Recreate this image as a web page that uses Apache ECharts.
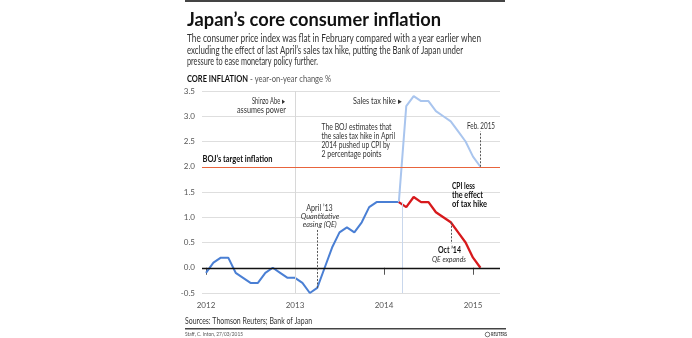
<!DOCTYPE html>
<html><head><meta charset="utf-8">
<script src="https://cdn.jsdelivr.net/npm/echarts@6/dist/echarts.min.js"></script>
<style>html,body{margin:0;padding:0;background:#fff}#c{width:692px;height:338px}</style>
</head><body><div id="c"></div>
<script>
// ---- data ----
const months = ['2012-01','2012-02','2012-03','2012-04','2012-05','2012-06','2012-07','2012-08','2012-09','2012-10','2012-11','2012-12',
  '2013-01','2013-02','2013-03','2013-04','2013-05','2013-06','2013-07','2013-08','2013-09','2013-10','2013-11','2013-12',
  '2014-01','2014-02','2014-03','2014-04','2014-05','2014-06','2014-07','2014-08','2014-09','2014-10','2014-11','2014-12',
  '2015-01','2015-02'];
const coreCPI = [-0.1,0.1,0.2,0.2,-0.1,-0.2,-0.3,-0.3,-0.1,0.0,-0.1,-0.2,
  -0.2,-0.3,-0.5,-0.4,0.0,0.4,0.7,0.8,0.7,0.9,1.2,1.3,
  1.3,1.3,1.3,3.2,3.4,3.3,3.3,3.1,3.0,2.9,2.7,2.5,
  2.2,2.0];
const exTaxMonths = ['2014-03','2014-04','2014-05','2014-06','2014-07','2014-08','2014-09','2014-10','2014-11','2014-12','2015-01','2015-02'];
const coreExTax = [1.3,1.2,1.4,1.3,1.3,1.1,1.0,0.9,0.7,0.5,0.2,0.0];
const yearTickMonths = ['2012-01','2013-01','2014-01','2015-01'];
const yearLabels = ['2012','2013','2014','2015'];
const targetInflation = 2.0;

// ---- helpers ----
const idx = m => months.indexOf(m);
const splitAt = idx('2014-03');
const darkPart = coreCPI.slice(0, splitAt + 1).map((v, i) => [i, v]);
const lightPart = coreCPI.slice(splitAt).map((v, i) => [i + splitAt, v]);
const redPart = coreExTax.map((v, i) => [idx(exTaxMonths[i]), v]);
const tickVals = yearTickMonths.map(idx);

const FAM = 'Lato';
const cv = document.createElement('canvas').getContext('2d');
function T(text, x, y, o) {
  o = o || {};
  const size = o.size || 8, weight = o.weight || 'normal', fstyle = o.style || 'normal';
  cv.font = `${fstyle} ${weight} ${size}px ${FAM}`;
  const w = cv.measureText(text).width;
  const sx = o.w ? o.w / w : (o.sx || 0.9);
  return { type: 'text', x: x, y: y, scaleX: sx, silent: true, z: 100,
    style: { text: text, fontSize: size, fontWeight: weight, fontStyle: fstyle, fontFamily: FAM,
      fill: o.fill || '#333', align: o.align || 'left', verticalAlign: 'middle' } };
}

const chart = echarts.init(document.getElementById('c'), null, { renderer: 'canvas' });
const dotted = { color: '#555', type: [2, 1.5], width: 1 };
chart.setOption({
  animation: false,
  backgroundColor: '#fff',
  grid: { left: 202, right: 192, top: 91, bottom: 45, containLabel: false },
  xAxis: {
    type: 'value', min: -0.54, max: 39.64,
    axisLine: { show: false },
    splitLine: { show: false },
    axisTick: { show: true, customValues: tickVals, length: 7, lineStyle: { color: '#555', width: 1 } },
    axisLabel: { customValues: tickVals, margin: 8, fontSize: 8, color: '#555', fontFamily: FAM,
      formatter: v => yearLabels[tickVals.indexOf(v)] || '' }
  },
  yAxis: {
    type: 'value', min: -0.5, max: 3.5, interval: 0.5,
    axisLine: { show: false }, axisTick: { show: false },
    splitLine: { lineStyle: { color: '#dedede', width: 1 } },
    axisLabel: { margin: 7, fontSize: 8, color: '#555', fontFamily: FAM, formatter: v => v.toFixed(1) }
  },
  series: [
    { type: 'line', data: [], z: 1, silent: true,
      markLine: { silent: true, symbol: 'none', label: { show: false }, animation: false,
        data: [
          { xAxis: idx('2013-01'), lineStyle: { color: '#d8d8d8', width: 1, type: 'solid' } },
          [{ coord: [splitAt + 0.5, -0.5], lineStyle: { color: '#c9d7ec', width: 1, type: 'solid' } }, { coord: [splitAt + 0.5, coreCPI[splitAt]] }],
          { yAxis: targetInflation, lineStyle: { color: '#e8643c', width: 1.2, type: 'solid' } },
          { yAxis: 0, lineStyle: { color: '#111', width: 1.4, type: 'solid' } },
          [{ coord: [idx('2013-04'), coreCPI[idx('2013-04')]], lineStyle: dotted }, { coord: [idx('2013-04'), 0.77] }],
          [{ coord: [idx('2014-10'), coreExTax[exTaxMonths.indexOf('2014-10')]], lineStyle: dotted }, { coord: [idx('2014-10'), 0.48] }],
          [{ coord: [idx('2015-02'), coreCPI[idx('2015-02')]], lineStyle: dotted }, { coord: [idx('2015-02'), 2.7] }]
        ] } },
    { type: 'line', data: darkPart, symbol: 'none', z: 3, lineStyle: { color: '#4a7fd4', width: 2 } },
    { type: 'line', data: lightPart, symbol: 'none', z: 3, lineStyle: { color: '#a9c5ee', width: 2 } },
    { type: 'line', data: redPart, symbol: 'none', z: 4, lineStyle: { color: '#d7191c', width: 2.3 } }
  ],
  graphic: [
    { type: 'rect', shape: { x: 185, y: 0, width: 320, height: 2 }, style: { fill: '#444' }, silent: true },
    T('Japan\u2019s core consumer inflation', 187, 20, { size: 19, weight: 'bold', w: 254, fill: '#111' }),
    T('The consumer price index was flat in February compared with a year earlier when', 187, 39, { size: 10.5, w: 294, fill: '#333' }),
    T('excluding the effect of last April\u2019s sales tax hike, putting the Bank of Japan under', 187, 50.5, { size: 10.5, w: 276, fill: '#333' }),
    T('pressure to ease monetary policy further.', 187, 62, { size: 10.5, w: 131, fill: '#333' }),
    T('CORE INFLATION', 187, 79, { size: 8.5, weight: 'bold', w: 61, fill: '#111' }),
    T('- year-on-year change %', 250, 79, { size: 8.5, w: 81, fill: '#555' }),
    T('Shinzo Abe \u25B8', 285, 101, { size: 8.5, align: 'right', w: 33, fill: '#333' }),
    T('assumes power', 286, 110, { size: 8.5, align: 'right', w: 49, fill: '#333' }),
    T('Sales tax hike \u25B8', 402, 101, { size: 8.5, align: 'right', w: 49, fill: '#333' }),
    T('The BOJ estimates that', 321.5, 127, { size: 8.5, w: 70, fill: '#333' }),
    T('the sales tax hike in April', 321.5, 136, { size: 8.5, w: 73.5, fill: '#333' }),
    T('2014 pushed up CPI by', 321.5, 145, { size: 8.5, w: 68.5, fill: '#333' }),
    T('2 percentage points', 321.5, 154, { size: 8.5, w: 60, fill: '#333' }),
    T('Feb. 2015', 481, 126, { size: 8.5, align: 'center', w: 28, fill: '#333' }),
    T('BOJ\u2019s target inflation', 202.5, 159, { size: 8.5, weight: 'bold', w: 70, fill: '#111' }),
    T('CPI less', 452, 186.5, { size: 8.5, weight: 'bold', w: 23, fill: '#111' }),
    T('the effect', 452, 195.5, { size: 8.5, weight: 'bold', w: 31, fill: '#111' }),
    T('of tax hike', 452, 204.5, { size: 8.5, weight: 'bold', w: 35, fill: '#111' }),
    T('April \u201913', 319.5, 208, { size: 8.5, align: 'center', w: 26.5, fill: '#333' }),
    T('Quantitative', 320, 216, { size: 8.5, style: 'italic', align: 'center', w: 38.5, fill: '#333' }),
    T('easing (QE)', 319.7, 224.5, { size: 8.5, style: 'italic', align: 'center', w: 34, fill: '#333' }),
    T('Oct \u201914', 449.5, 250.5, { size: 8.5, weight: 'bold', align: 'center', w: 23, fill: '#111' }),
    T('QE expands', 449, 259, { size: 8.5, style: 'italic', align: 'center', w: 34, fill: '#333' }),
    T('Sources: Thomson Reuters; Bank of Japan', 185, 321, { size: 9.5, w: 127, fill: '#333' }),
    { type: 'rect', shape: { x: 185, y: 328, width: 321, height: 1.5 }, style: { fill: '#444' }, silent: true },
    T('Staff, C. Inton, 27/03/2015', 185, 334.5, { size: 6, w: 58, fill: '#555' }),
    { type: 'circle', shape: { cx: 487.5, cy: 334.5, r: 2.3 }, style: { fill: 'none', stroke: '#555', lineWidth: 0.8 }, silent: true },
    T('REUTERS', 491, 334.5, { size: 5.5, weight: 'bold', w: 16, fill: '#444' })
  ]
});
</script></body></html>
